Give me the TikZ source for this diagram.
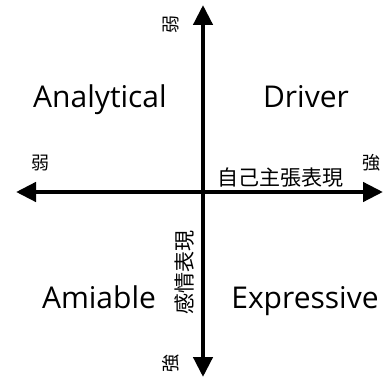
\documentclass[tikz,border=0pt]{standalone}
\usepackage{fontspec}
\setmainfont{Open Sans}
\newfontfamily\jpfont{Noto Sans CJK JP}
\usetikzlibrary{arrows.meta}
\begin{document}
\begin{tikzpicture}[x=1pt,y=1pt,
  axis/.style={line width=4.4pt,{Triangle[length=20pt,width=19pt]}-{Triangle[length=20pt,width=19pt]}},
  quad/.style={font=\fontsize{30}{30}\selectfont, anchor=base, inner sep=0pt},
  jplbl/.style={font=\jpfont\fontsize{21}{21}\selectfont, inner sep=0pt},
  endlbl/.style={font=\jpfont\fontsize{18}{18}\selectfont, inner sep=0pt}]
\useasboundingbox (0,0) rectangle (383,378);
\coordinate (L) at (16,186);
\coordinate (R) at (383,186);
\coordinate (T) at (203,373);
\coordinate (B) at (203,1);
\draw[axis] (L) -- (R);
\draw[axis] (B) -- (T);
\node[quad] (analytical) at (100,270) {Analytical};
\node[quad] (driver) at (306,270) {Driver};
\node[quad] (amiable) at (99,70) {Amiable};
\node[quad] (expressive) at (305,70) {Expressive};
\node[jplbl] (self) at (280,200) {自己主張表現};
\node[jplbl, rotate=90] (emo) at (185,106) {感情表現};
\node[endlbl] (weakL) at (40,215) {弱};
\node[endlbl] (strongR) at (371,215) {強};
\node[endlbl, rotate=90] (weakT) at (171,353) {弱};
\node[endlbl, rotate=90] (strongB) at (171,15) {強};
\end{tikzpicture}
\end{document}
